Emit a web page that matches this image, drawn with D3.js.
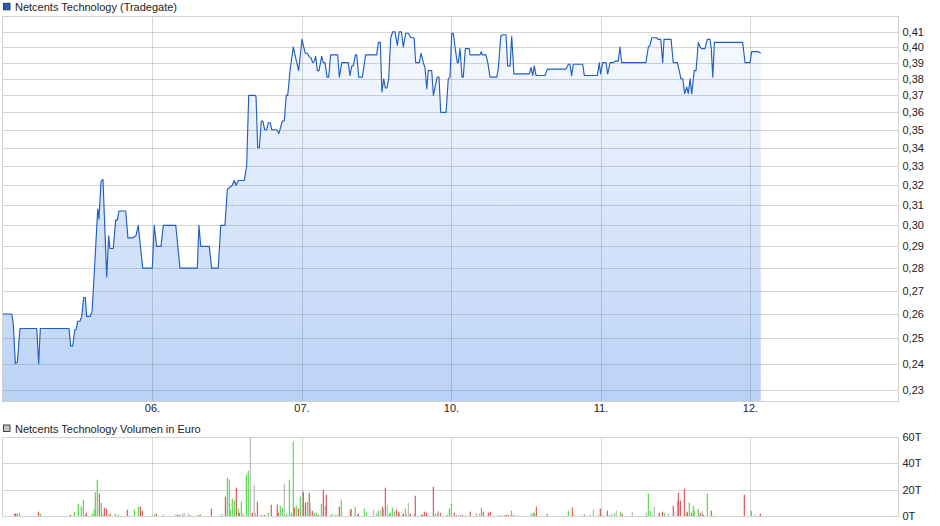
<!DOCTYPE html>
<html><head><meta charset="utf-8">
<script src="https://cdn.jsdelivr.net/npm/d3@7"></script>
<style>body{margin:0;background:#fff}svg{display:block;font-family:"Liberation Sans",Arial,sans-serif}</style>
</head><body><svg id="c" width="940" height="526"></svg>
<script>
const priceTitle = "Netcents Technology (Tradegate)";
const volumeTitle = "Netcents Technology Volumen in Euro";
const dayTicks = [1, 2, 3, 4, 5];
const dayLabels = ["06.", "07.", "10.", "11.", "12."];
const priceTicks = [0.23,0.24,0.25,0.26,0.27,0.28,0.29,0.30,0.31,0.32,0.33,0.34,0.35,0.36,0.37,0.38,0.39,0.40,0.41];
const volumeTicks = [0, 20, 40, 60];
const volumeTickLabels = ["0T", "20T", "40T", "60T"];
// [time in trading days from 05., price EUR]
const priceSeries = [[0,0.26],[0.062,0.26],[0.072,0.256],[0.086,0.24],[0.099,0.2405],[0.117,0.254],[0.229,0.254],[0.242,0.24],[0.253,0.254],[0.445,0.254],[0.456,0.247],[0.470,0.247],[0.483,0.2535],[0.492,0.2535],[0.503,0.257],[0.518,0.257],[0.530,0.259],[0.543,0.267],[0.554,0.267],[0.563,0.259],[0.585,0.259],[0.599,0.261],[0.614,0.278],[0.637,0.308],[0.645,0.303],[0.659,0.322],[0.672,0.323],[0.697,0.276],[0.710,0.295],[0.719,0.289],[0.741,0.289],[0.757,0.3025],[0.768,0.3025],[0.779,0.307],[0.824,0.307],[0.839,0.294],[0.871,0.294],[0.893,0.295],[0.908,0.30],[0.938,0.28],[1.002,0.28],[1.015,0.30],[1.031,0.29],[1.060,0.29],[1.076,0.30],[1.159,0.30],[1.187,0.28],[1.303,0.28],[1.314,0.30],[1.326,0.29],[1.383,0.29],[1.399,0.28],[1.443,0.28],[1.460,0.30],[1.488,0.30],[1.504,0.318],[1.537,0.32],[1.550,0.3225],[1.562,0.32],[1.577,0.3225],[1.617,0.3225],[1.633,0.33],[1.647,0.37],[1.689,0.37],[1.696,0.369],[1.707,0.34],[1.718,0.34],[1.731,0.355],[1.741,0.355],[1.754,0.35],[1.767,0.35],[1.778,0.354],[1.791,0.354],[1.801,0.35],[1.834,0.35],[1.849,0.348],[1.872,0.355],[1.885,0.355],[1.898,0.37],[1.908,0.37],[1.923,0.385],[1.945,0.40],[1.961,0.393],[1.981,0.385],[2.003,0.405],[2.025,0.396],[2.039,0.396],[2.050,0.394],[2.064,0.393],[2.075,0.39],[2.086,0.391],[2.095,0.394],[2.106,0.385],[2.117,0.385],[2.135,0.394],[2.146,0.39],[2.157,0.39],[2.171,0.381],[2.182,0.381],[2.195,0.395],[2.242,0.395],[2.253,0.381],[2.269,0.39],[2.313,0.39],[2.324,0.382],[2.336,0.388],[2.346,0.388],[2.360,0.395],[2.369,0.395],[2.383,0.381],[2.407,0.381],[2.429,0.395],[2.503,0.395],[2.514,0.403],[2.527,0.403],[2.538,0.372],[2.550,0.38],[2.561,0.3745],[2.572,0.3745],[2.583,0.38],[2.597,0.406],[2.610,0.41],[2.625,0.41],[2.641,0.401],[2.654,0.41],[2.668,0.41],[2.681,0.40],[2.697,0.409],[2.714,0.409],[2.731,0.406],[2.753,0.406],[2.764,0.39],[2.788,0.39],[2.799,0.396],[2.815,0.39],[2.826,0.387],[2.838,0.374],[2.848,0.385],[2.871,0.385],[2.882,0.37],[2.898,0.377],[2.908,0.381],[2.920,0.381],[2.931,0.36],[2.967,0.36],[2.982,0.38],[2.993,0.381],[3.005,0.409],[3.015,0.409],[3.027,0.40],[3.042,0.39],[3.049,0.39],[3.060,0.399],[3.074,0.381],[3.082,0.381],[3.096,0.399],[3.122,0.399],[3.127,0.395],[3.194,0.395],[3.203,0.397],[3.209,0.395],[3.234,0.395],[3.246,0.39],[3.261,0.381],[3.306,0.381],[3.316,0.386],[3.333,0.407],[3.346,0.408],[3.368,0.408],[3.379,0.388],[3.395,0.388],[3.406,0.407],[3.421,0.383],[3.524,0.383],[3.535,0.387],[3.547,0.382],[3.557,0.388],[3.569,0.382],[3.629,0.382],[3.644,0.386],[3.769,0.386],[3.785,0.389],[3.796,0.389],[3.807,0.382],[3.818,0.389],[3.881,0.389],[3.892,0.382],[3.979,0.382],[3.992,0.39],[4.001,0.383],[4.015,0.39],[4.037,0.39],[4.048,0.383],[4.064,0.39],[4.086,0.39],[4.097,0.391],[4.119,0.391],[4.130,0.40],[4.142,0.39],[4.304,0.39],[4.320,0.40],[4.331,0.401],[4.343,0.406],[4.376,0.406],[4.387,0.405],[4.403,0.405],[4.416,0.39],[4.425,0.405],[4.472,0.405],[4.487,0.39],[4.514,0.39],[4.527,0.385],[4.538,0.38],[4.550,0.38],[4.563,0.371],[4.577,0.375],[4.587,0.371],[4.599,0.38],[4.610,0.371],[4.627,0.385],[4.639,0.385],[4.654,0.403],[4.666,0.40],[4.677,0.399],[4.699,0.399],[4.715,0.405],[4.732,0.405],[4.741,0.399],[4.751,0.381],[4.762,0.403],[4.951,0.403],[4.967,0.39],[5.000,0.39],[5.011,0.397],[5.056,0.397],[5.072,0.396]];
// [time in trading days, volume in thousand EUR, direction: 1 up, -1 down, 0 unchanged]
const volumeSeries = [[0.081,1.8,-1],[0.088,1.8,-1],[0.099,1.8,1],[0.113,2.5,1],[0.240,3.3,-1],[0.253,1.8,1],[0.454,1.0,-1],[0.480,3.3,1],[0.507,9.4,1],[0.527,7.3,1],[0.541,12.4,1],[0.554,1.0,0],[0.561,2.5,-1],[0.601,1.8,1],[0.614,4.8,1],[0.621,18,1],[0.634,27.6,1],[0.648,17,-1],[0.661,10,1],[0.668,1.0,1],[0.681,6.3,-1],[0.695,5.6,-1],[0.708,1.0,1],[0.721,1.8,-1],[0.755,1.8,1],[0.775,1.0,1],[0.835,4.8,-1],[0.848,0.5,0],[0.882,4.8,1],[0.909,7.1,1],[0.922,7.1,-1],[0.935,4.0,-1],[1.016,1.0,1],[1.029,1.8,-1],[1.076,1.0,1],[1.156,1.0,0],[1.169,1.0,-1],[1.183,1.0,-1],[1.203,1.8,0],[1.216,2.5,0],[1.243,1.8,0],[1.256,1.0,0],[1.310,1.0,1],[1.323,1.0,-1],[1.397,5.6,-1],[1.457,0.5,1],[1.470,1.8,0],[1.491,14.7,-1],[1.504,29.1,1],[1.517,27.6,1],[1.524,4.8,1],[1.537,13.2,1],[1.551,11.6,1],[1.564,21.5,-1],[1.577,5.6,1],[1.584,2.5,-1],[1.598,10.9,1],[1.611,1.8,0],[1.631,31.4,1],[1.644,34.4,1],[1.658,75,0],[1.671,2.5,-1],[1.684,23.8,0],[1.691,2.5,0],[1.705,10.9,-1],[1.731,1.0,1],[1.751,1.0,-1],[1.778,2.5,1],[1.798,8.6,-1],[1.838,8.6,-1],[1.845,2.5,-1],[1.858,7.8,1],[1.872,6.3,1],[1.885,24.6,0],[1.899,1.8,1],[1.919,27.6,1],[1.932,2.5,1],[1.945,56.5,1],[1.952,6.3,-1],[1.965,7.8,1],[1.979,5.6,-1],[1.992,14.7,1],[2.006,17.7,0],[2.012,18.5,-1],[2.026,10.1,-1],[2.039,10.9,1],[2.052,17.7,-1],[2.059,10.1,0],[2.072,4.0,-1],[2.086,2.5,1],[2.099,2.5,1],[2.113,1.0,-1],[2.133,9.4,1],[2.146,20,-1],[2.159,7.8,0],[2.166,16.2,-1],[2.193,1.0,0],[2.206,1.8,1],[2.226,1.0,0],[2.240,1.0,0],[2.253,7.1,-1],[2.266,12.4,1],[2.327,4.8,-1],[2.333,5.6,1],[2.360,7.1,1],[2.373,1.0,0],[2.380,1.8,-1],[2.420,5.6,1],[2.434,2.5,1],[2.481,4.8,0],[2.501,2.5,0],[2.514,4.0,1],[2.527,4.0,0],[2.541,7.1,-1],[2.547,5.6,1],[2.561,21.5,-1],[2.574,8.6,0],[2.587,1.8,1],[2.594,2.5,1],[2.608,6.3,1],[2.621,3.3,0],[2.634,4.8,-1],[2.648,3.3,-1],[2.654,2.5,1],[2.674,1.0,0],[2.681,1.8,-1],[2.695,5.6,1],[2.701,1.8,0],[2.715,10.1,0],[2.728,1.8,-1],[2.755,1.8,0],[2.761,15.4,-1],[2.802,1.0,1],[2.808,1.0,-1],[2.822,3.3,-1],[2.835,2.5,-1],[2.848,0.5,1],[2.882,22.3,-1],[2.895,1.8,1],[2.909,2.5,1],[2.915,4.0,0],[2.929,2.5,-1],[2.975,1.0,1],[2.989,5.6,1],[3.002,9.4,1],[3.022,2.5,-1],[3.036,1.0,0],[3.049,1.0,0],[3.062,1.0,0],[3.076,1.0,-1],[3.096,0.5,1],[3.129,3.3,-1],[3.169,2.5,0],[3.190,1.8,0],[3.203,6.3,1],[3.216,3.3,-1],[3.250,2.5,-1],[3.263,3.3,-1],[3.323,0.5,1],[3.337,0.5,1],[3.357,0.5,-1],[3.370,1.0,-1],[3.384,1.0,-1],[3.404,4.0,1],[3.417,1.0,1],[3.424,0.5,0],[3.444,0.5,0],[3.537,1.8,1],[3.551,2.5,1],[3.557,2.5,1],[3.571,7.1,-1],[3.644,1.8,1],[3.785,4.0,1],[3.812,6.3,-1],[3.825,1.0,1],[3.872,0.5,0],[3.892,1.0,-1],[3.932,1.0,0],[3.952,4.8,0],[3.986,1.0,1],[3.999,5.6,-1],[4.012,0.5,1],[4.046,4.0,-1],[4.059,0.5,1],[4.073,1.8,0],[4.093,1.8,1],[4.106,4.0,0],[4.133,3.3,1],[4.146,1.8,-1],[4.213,3.3,0],[4.307,2.5,0],[4.320,17.0,1],[4.333,4.0,1],[4.347,1.0,1],[4.360,7.1,0],[4.394,2.5,-1],[4.414,3.3,-1],[4.427,2.5,1],[4.454,1.8,0],[4.487,7.8,-1],[4.514,11.6,0],[4.521,17.7,-1],[4.534,11.6,-1],[4.561,20.8,-1],[4.574,1.8,1],[4.581,3.3,-1],[4.594,10.1,1],[4.608,2.5,-1],[4.621,7.8,1],[4.628,4.0,1],[4.654,5.6,1],[4.668,2.5,-1],[4.681,4.0,0],[4.688,1.0,-1],[4.715,17.0,1],[4.741,4.0,-1],[4.761,0.5,1],[4.962,16.2,-1],[5.009,4.0,1],[5.036,1.0,0],[5.069,1.8,-1]];

const W = 940, H = 526;
const frame = {left: 2.5, right: 898.5};
const pricePane = {top: 16, bottom: 401};
const volPane = {top: 437, bottom: 516};
const textColor = "#222";
const gridColor = "rgba(105,105,105,0.27)";
const borderColor = "#d2d2d2";
const lineColor = "#1f5fc4";
const dirColor = {"1": "#63d95a", "-1": "#dd5f5f", "0": "#bdbdbd"};

const svg = d3.select("#c");
const x = d3.scaleLinear().domain([0, 6]).range([2.5, 899.5]);
const y = d3.scaleLog().domain([0.23, 0.41]).range([390, 31.7]);
const yv = d3.scaleLinear().domain([0, 60]).range([volPane.bottom, volPane.top]).clamp(true);

const defs = svg.append("defs");
const grad = defs.append("linearGradient").attr("id", "fillGrad")
  .attr("gradientUnits", "userSpaceOnUse").attr("x1", 0).attr("x2", 0)
  .attr("y1", pricePane.top).attr("y2", pricePane.bottom);
grad.append("stop").attr("offset", "0%").attr("stop-color", "#f9fbff");
grad.append("stop").attr("offset", "100%").attr("stop-color", "#bad2f7");
defs.append("clipPath").attr("id", "priceClip").append("rect")
  .attr("x", frame.left).attr("y", pricePane.top)
  .attr("width", frame.right - frame.left).attr("height", pricePane.bottom - pricePane.top);

// Legends
function legend(yTop, fill, label) {
  svg.append("rect").attr("x", 3.5).attr("y", yTop).attr("width", 6.5).attr("height", 6.5)
    .attr("fill", fill).attr("stroke", "#333").attr("stroke-width", 0.9);
  svg.append("text").attr("x", 15).attr("y", yTop + 7.6).attr("font-size", 11)
    .attr("fill", textColor).text(label);
}
legend(3.3, "#1f5fc4", priceTitle);
legend(425, "#c4c4c4", volumeTitle);

// Price pane
const pg = svg.append("g");
const area = d3.area().x(d => x(d[0])).y0(pricePane.bottom).y1(d => y(d[1]));
pg.append("path").datum(priceSeries).attr("d", area).attr("fill", "url(#fillGrad)")
  .attr("clip-path", "url(#priceClip)");

pg.selectAll("line.hg").data(priceTicks).join("line").attr("class", "hg")
  .attr("x1", frame.left).attr("x2", frame.right)
  .attr("y1", d => Math.round(y(d)) + 0.5).attr("y2", d => Math.round(y(d)) + 0.5)
  .attr("stroke", gridColor).attr("stroke-width", 1);
pg.selectAll("line.vg").data(dayTicks).join("line").attr("class", "vg")
  .attr("x1", d => Math.round(x(d)) + 0.5).attr("x2", d => Math.round(x(d)) + 0.5)
  .attr("y1", pricePane.top).attr("y2", pricePane.bottom)
  .attr("stroke", gridColor).attr("stroke-width", 1);

const line = d3.line().x(d => x(d[0])).y(d => y(d[1]));
pg.append("path").datum(priceSeries).attr("d", line).attr("fill", "none")
  .attr("stroke", lineColor).attr("stroke-width", 1.15).attr("stroke-linejoin", "round")
  .attr("clip-path", "url(#priceClip)");

pg.append("rect").attr("x", frame.left).attr("y", pricePane.top + 0.5)
  .attr("width", frame.right - frame.left).attr("height", pricePane.bottom - pricePane.top)
  .attr("fill", "none").attr("stroke", borderColor);

const yAxis = d3.axisRight(y).tickValues(priceTicks).tickSize(0).tickPadding(4)
  .tickFormat(d => d3.format(".2f")(d).replace(".", ","));
const yAxisG = svg.append("g").attr("transform", `translate(${frame.right},0)`).call(yAxis);
yAxisG.select(".domain").remove();
yAxisG.selectAll("text").attr("font-size", 11).attr("fill", textColor)
  .attr("font-family", '"Liberation Sans",Arial,sans-serif');

const xAxis = d3.axisBottom(x).tickValues(dayTicks).tickFormat((d, i) => dayLabels[i])
  .tickSize(0).tickPadding(3);
const xAxisG = svg.append("g").attr("transform", `translate(0,${pricePane.bottom})`).call(xAxis);
xAxisG.select(".domain").remove();
xAxisG.selectAll("text").attr("font-size", 11).attr("fill", textColor)
  .attr("font-family", '"Liberation Sans",Arial,sans-serif');

// Volume pane
const vg = svg.append("g");
vg.selectAll("line.hg").data(volumeTicks).join("line").attr("class", "hg")
  .attr("x1", frame.left).attr("x2", frame.right)
  .attr("y1", d => Math.round(yv(d)) + 0.5).attr("y2", d => Math.round(yv(d)) + 0.5)
  .attr("stroke", gridColor);
vg.selectAll("line.vg").data(dayTicks).join("line").attr("class", "vg")
  .attr("x1", d => Math.round(x(d)) + 0.5).attr("x2", d => Math.round(x(d)) + 0.5)
  .attr("y1", volPane.top).attr("y2", volPane.bottom)
  .attr("stroke", gridColor);
vg.append("rect").attr("x", frame.left).attr("y", volPane.top + 0.5)
  .attr("width", frame.right - frame.left).attr("height", volPane.bottom - volPane.top)
  .attr("fill", "none").attr("stroke", borderColor);

vg.selectAll("rect.bar").data(volumeSeries).join("rect").attr("class", "bar")
  .attr("x", d => x(d[0]) - 0.6).attr("width", 1.25)
  .attr("y", d => yv(d[1])).attr("height", d => yv(0) - yv(d[1]))
  .attr("fill", d => dirColor[String(d[2])]);

const vAxis = d3.axisRight(yv).tickValues(volumeTicks).tickSize(0).tickPadding(4)
  .tickFormat((d, i) => volumeTickLabels[i]);
const vAxisG = svg.append("g").attr("transform", `translate(${frame.right},0)`).call(vAxis);
vAxisG.select(".domain").remove();
vAxisG.selectAll("text").attr("font-size", 11).attr("fill", textColor)
  .attr("font-family", '"Liberation Sans",Arial,sans-serif');
</script>
</body></html>
